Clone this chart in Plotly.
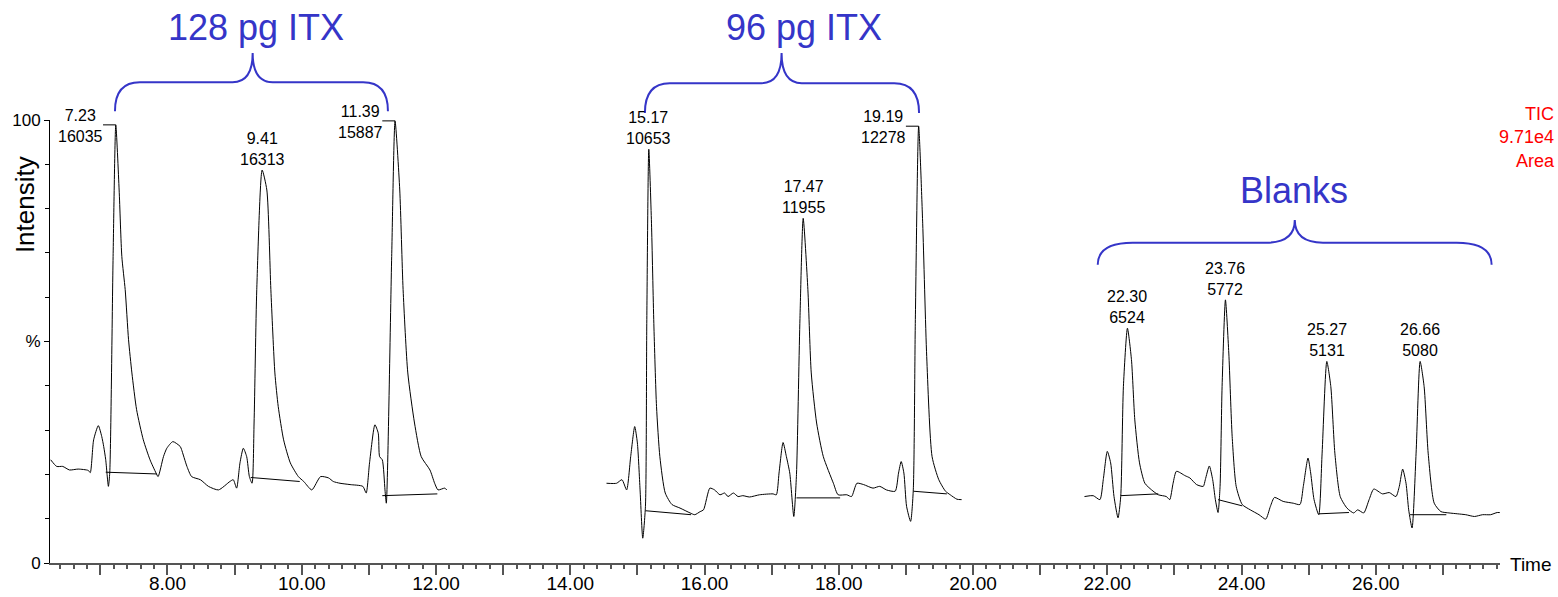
import plotly.graph_objects as go

# ---------------- axis ranges ----------------
XMIN, XMAX = 6.25, 27.85
YMIN, YMAX = 0, 100

# ---------------- chromatogram trace (time in min, intensity in %) ----------------
seg1_time = [6.26, 6.35, 6.44, 6.54, 6.67, 6.82, 6.85, 6.90, 6.97, 7.02, 7.05, 7.08, 7.12,
             7.14, 7.19, 7.23, 7.28, 7.32, 7.37, 7.42, 7.47, 7.54, 7.64, 7.74, 7.83, 7.86,
             7.94, 7.99, 8.08, 8.19, 8.21, 8.29, 8.36, 8.49, 8.61, 8.76, 8.93, 8.98, 9.03,
             9.08, 9.13, 9.18, 9.22, 9.26, 9.29, 9.33, 9.41, 9.48, 9.54, 9.60, 9.65, 9.73,
             9.83, 9.95, 10.03, 10.15, 10.28, 10.40, 10.47, 10.57, 10.72, 10.91, 10.96,
             11.01, 11.09, 11.14, 11.16, 11.20, 11.24, 11.26, 11.34, 11.39, 11.46, 11.51,
             11.58, 11.68, 11.78, 11.91, 11.98, 12.03, 12.13, 12.16]
seg1_int = [23.3, 21.8, 21.8, 21.0, 21.2, 20.9, 20.4, 27.8, 31.0, 28.6, 26.3, 23.3, 17.3,
            20.4, 69.2, 98.9, 84.2, 69.2, 61.7, 50.4, 42.9, 34.6, 27.8, 23.3, 20.3, 19.5,
            24.0, 25.9, 27.4, 26.3, 25.6, 21.8, 19.5, 18.8, 17.3, 16.5, 18.4, 18.8, 16.9,
            22.6, 25.9, 24.0, 19.5, 18.0, 31.6, 61.7, 88.7, 84.2, 61.7, 42.9, 35.3, 27.8,
            22.6, 19.5, 18.4, 16.5, 19.5, 19.2, 18.4, 18.0, 17.7, 17.3, 15.8,
            22.6, 31.2, 29.3, 24.0, 23.3, 16.5, 13.5, 69.2, 99.8, 84.2, 61.7,
            42.9, 31.6, 24.0, 21.0, 18.0, 16.5, 16.9, 16.5]

seg2_time = [14.54, 14.69, 14.77, 14.84, 14.90, 14.96, 15.00, 15.04, 15.08, 15.12, 15.14,
             15.17, 15.21, 15.245, 15.285, 15.335, 15.415, 15.515, 15.635, 15.785, 15.855,
             15.935, 15.985, 16.08, 16.15, 16.23, 16.30, 16.35, 16.43, 16.50, 16.57, 16.67,
             16.82, 17.02, 17.07, 17.11, 17.17, 17.22, 17.27, 17.33, 17.37, 17.42, 17.47,
             17.54, 17.59, 17.67, 17.77, 17.92, 17.99, 18.12, 18.19, 18.27, 18.37, 18.51,
             18.61, 18.71, 18.84, 18.89, 18.93, 18.97, 19.01, 19.07, 19.11, 19.14, 19.19,
             19.25, 19.31, 19.39, 19.49, 19.59, 19.66, 19.76, 19.83]
seg2_int = [18.0, 18.0, 18.8, 16.5, 24.0, 30.8, 27.1, 16.5, 5.6, 12.8, 54.1,
            93.4, 76.7, 54.1, 35.3, 24.0, 15.8, 13.2, 12.4, 11.3, 10.9,
            11.6, 12.0, 16.9, 16.5, 15.4, 15.8, 15.0, 15.8, 15.0, 15.2, 14.9,
            15.4, 15.6, 15.4, 20.3, 27.2, 24.0, 20.3, 10.5, 20.0, 54.1, 77.8,
            61.7, 42.9, 31.6, 24.0, 18.0, 15.4, 15.4, 15.0, 18.0, 17.7, 16.9,
            17.3, 16.5, 16.2, 20.3, 22.9, 20.3, 12.8, 9.4, 16.5, 54.1, 98.6,
            76.7, 46.6, 24.0, 18.8, 16.2, 15.4, 14.4, 14.3]

seg3_time = [21.66, 21.79, 21.89, 21.94, 22.00, 22.05, 22.10, 22.16, 22.20, 22.24, 22.30,
             22.36, 22.41, 22.48, 22.56, 22.66, 22.76, 22.88, 22.93, 22.98, 23.03, 23.16,
             23.23, 23.33, 23.43, 23.46, 23.52, 23.57, 23.61, 23.65, 23.68, 23.71, 23.76,
             23.81, 23.86, 23.92, 24.01, 24.13, 24.26, 24.36, 24.43, 24.49, 24.62, 24.77,
             24.87, 24.92, 24.99, 25.03, 25.08, 25.15, 25.20, 25.27, 25.33, 25.39, 25.47,
             25.57, 25.67, 25.73, 25.82, 25.90, 25.97, 26.10, 26.20, 26.30, 26.35, 26.40,
             26.45, 26.49, 26.54, 26.60, 26.66, 26.72, 26.78, 26.87, 26.97, 27.09, 27.22,
             27.34, 27.47, 27.59, 27.71, 27.81, 27.90]
seg3_int = [15.0, 15.2, 14.3, 18.8, 25.2, 22.6, 15.0, 10.2, 15.0, 39.8, 53.0,
            45.9, 32.3, 22.6, 18.0, 16.5, 15.4, 15.0, 14.3, 18.0, 20.7, 19.7,
            19.2, 17.7, 17.3, 18.8, 21.9, 18.8, 14.3, 11.4, 17.3, 39.8, 59.4,
            47.4, 28.6, 17.3, 13.2, 12.0, 10.9, 9.9, 12.8, 14.8, 13.9, 13.5,
            13.2, 17.3, 23.7, 20.3, 14.3, 10.9, 24.8, 45.5, 39.8, 24.8, 15.0,
            12.4, 11.3, 12.0, 11.3, 14.3, 16.7, 15.6, 15.9, 15.0, 17.3, 21.2,
            18.0, 12.0, 7.9, 24.8, 45.5, 39.8, 24.8, 13.5, 11.6, 11.3, 11.1,
            10.9, 10.5, 10.9, 10.9, 11.4, 11.3]

# ---------------- integrated peaks ----------------
peak_rt = [7.23, 9.41, 11.39, 15.17, 17.47, 19.19, 22.30, 23.76, 25.27, 26.66]
peak_height = [98.9, 88.7, 99.8, 93.4, 77.8, 98.6, 53.0, 59.4, 45.5, 45.5]
peak_area = [16035, 16313, 15887, 10653, 11955, 12278, 6524, 5772, 5131, 5080]
peak_label_left = [True, False, True, False, False, True, False, False, False, False]

base_t0 = [7.08, 9.24, 11.20, 15.12, 17.37, 19.11, 22.20, 23.65, 25.15, 26.51]
base_i0 = [20.5, 19.3, 15.2, 11.8, 14.7, 16.2, 15.2, 14.3, 11.1, 10.9]
base_t1 = [7.84, 9.97, 12.02, 15.80, 18.02, 19.61, 22.76, 24.01, 25.60, 27.05]
base_i1 = [20.1, 18.4, 15.6, 10.9, 14.7, 15.6, 15.6, 12.9, 11.4, 10.9]

# ---------------- groups (braces) ----------------
group_names = ["128 pg ITX", "96 pg ITX", "Blanks"]
group_start = [7.218, 15.112, 21.858]
group_end = [11.284, 19.196, 27.725]
group_mid = [9.269, 17.148, 24.793]
group_text_x = [9.318, 17.480, 24.778]
brace_foot = [102.0, 101.6, 67.3]
brace_level = [108.5, 108.3, 72.3]
brace_tip = [115.1, 115.1, 77.4]
group_text_y = [120.9, 120.9, 84.1]
brace_r_end = [0.37, 0.37, 0.52]
brace_r_mid = [0.30, 0.30, 0.42]

x_tick_vals = list(range(7, 28))
x_tick_text = [f"{v:.2f}" if v % 2 == 0 else "" for v in x_tick_vals]
y_tick_vals = [0, 50, 100]
y_tick_text = ["0", "%", "100"]

FONT = "Liberation Sans, Arial, Helvetica, sans-serif"
BLUE = "#3535C8"
RED = "#FF0000"


def xp(t):
    return (t - XMIN) / (XMAX - XMIN)


def yp(v):
    return (v - YMIN) / (YMAX - YMIN)


fig = go.Figure()
for tx, ty in [(seg1_time, seg1_int), (seg2_time, seg2_int), (seg3_time, seg3_int)]:
    fig.add_trace(go.Scatter(x=tx, y=ty, mode="lines",
                             line=dict(color="black", width=1, shape="spline", smoothing=0.6),
                             hoverinfo="skip"))

bx, by = [], []
for a, b, c, d in zip(base_t0, base_i0, base_t1, base_i1):
    bx += [a, c, None]
    by += [b, d, None]
fig.add_trace(go.Scatter(x=bx, y=by, mode="lines",
                         line=dict(color="black", width=1), hoverinfo="skip"))

shapes = []
annotations = []

for rt, h, area, left in zip(peak_rt, peak_height, peak_area, peak_label_left):
    annotations.append(dict(
        x=rt, y=h, xref="x", yref="y", showarrow=False,
        text=f"{rt:.2f}<br>{area}", xanchor="center", yanchor="bottom",
        xshift=-35 if left else 0, yshift=-22 if left else 0,
        font=dict(family=FONT, size=16, color="black")))
    if left:
        shapes.append(dict(type="line", xref="x", yref="y",
                           x0=rt - 0.19, x1=rt, y0=h, y1=h,
                           line=dict(color="black", width=1)))

for i, name in enumerate(group_names):
    x0, x1, xc = xp(group_start[i]), xp(group_end[i]), xp(group_mid[i])
    yb, yh, yt = yp(brace_foot[i]), yp(brace_level[i]), yp(brace_tip[i])
    re = brace_r_end[i] / (XMAX - XMIN)
    rm = brace_r_mid[i] / (XMAX - XMIN)
    path = (f"M {x0},{yb} Q {x0},{yh} {x0 + re},{yh} L {xc - rm},{yh} "
            f"Q {xc},{yh} {xc},{yt} Q {xc},{yh} {xc + rm},{yh} "
            f"L {x1 - re},{yh} Q {x1},{yh} {x1},{yb}")
    shapes.append(dict(type="path", xref="paper", yref="paper", path=path,
                       line=dict(color=BLUE, width=2)))
    annotations.append(dict(x=group_text_x[i], y=yp(group_text_y[i]), xref="x", yref="paper",
                            text=name, showarrow=False, xanchor="center", yanchor="middle",
                            font=dict(family=FONT, size=36, color=BLUE)))

annotations.append(dict(x=1.039, y=1.041, xref="paper", yref="paper", showarrow=False,
                        text="TIC<br>9.71e4<br>Area", xanchor="right", yanchor="top",
                        align="right", font=dict(family=FONT, size=18, color=RED)))
annotations.append(dict(x=-0.0172, y=0.808, xref="paper", yref="paper", showarrow=False,
                        text="Intensity", textangle=-90, xanchor="center", yanchor="middle",
                        font=dict(family=FONT, size=26, color="black")))
annotations.append(dict(x=1.0217, y=-0.004, xref="paper", yref="paper", showarrow=False,
                        text="Time", xanchor="center", yanchor="middle",
                        font=dict(family=FONT, size=19, color="black")))

fig.update_layout(
    width=1558, height=597, autosize=False,
    margin=dict(l=50, r=57.5, t=120, b=33.7, pad=0),
    paper_bgcolor="white", plot_bgcolor="white",
    showlegend=False,
    font=dict(family=FONT, color="black"),
    shapes=shapes, annotations=annotations,
    xaxis=dict(range=[XMIN, XMAX], showgrid=False, zeroline=False, automargin=False,
               showline=True, linecolor="#555555", linewidth=2,
               ticks="outside", tickmode="array", tickvals=x_tick_vals, ticktext=x_tick_text,
               ticklen=10, tickwidth=1.5, tickcolor="#555555", ticklabelstandoff=-8,
               tickfont=dict(family=FONT, size=19, color="black"),
               minor=dict(dtick=0.2, tick0=0, ticks="outside", ticklen=4,
                          tickwidth=1.5, tickcolor="#555555", showgrid=False)),
    yaxis=dict(range=[YMIN, YMAX], showgrid=False, zeroline=False, automargin=False,
               showline=True, linecolor="black", linewidth=1,
               ticks="outside", tickmode="array", tickvals=y_tick_vals, ticktext=y_tick_text,
               ticklen=5, tickwidth=1, tickcolor="black",
               tickfont=dict(family=FONT, size=17, color="black"),
               minor=dict(dtick=10, tick0=0, ticks="outside", ticklen=4,
                          tickwidth=1, tickcolor="black", showgrid=False)),
)

fig.write_html("out.html", config={"displayModeBar": False})
